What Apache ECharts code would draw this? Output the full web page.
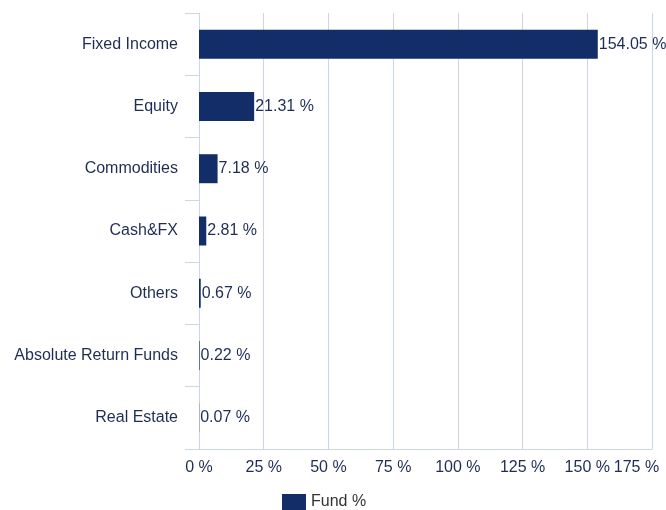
<!DOCTYPE html>
<html>
<head>
<meta charset="utf-8">
<script src="https://cdn.jsdelivr.net/npm/echarts@6/dist/echarts.min.js"></script>
<style>
  html, body { margin: 0; padding: 0; background: #fff; }
  #chart { width: 666px; height: 510px; }
</style>
</head>
<body>
<div id="chart"></div>
<script>
    var categories = ['Fixed Income', 'Equity', 'Commodities', 'Cash&FX', 'Others', 'Absolute Return Funds', 'Real Estate'];
    var fundValues = [154.05, 21.31, 7.18, 2.81, 0.67, 0.22, 0.07];
    var tickLabels = ['0 %', '25 %', '50 %', '75 %', '100 %', '125 %', '150 %', '175 %'];

    var textColor = '#1f2d55';
    var lineColor = '#ccd6eb';
    var font = 'Liberation Sans, Arial, sans-serif';

    var myChart = echarts.init(document.getElementById('chart'));

    myChart.setOption({
        backgroundColor: '#fff',
        animation: false,
        grid: { left: 199, right: 14, top: 13, bottom: 61 },
        legend: {
            top: 489,
            left: 277,
            itemWidth: 24,
            itemHeight: 16,
            itemGap: 8,
            icon: 'rect',
            textStyle: { color: '#333', fontSize: 16, fontFamily: font },
            data: ['Fund %']
        },
        xAxis: {
            type: 'value',
            min: 0,
            max: 175,
            interval: 25,
            axisLine: { show: true, lineStyle: { color: lineColor } },
            axisTick: { show: false },
            splitLine: { show: true, lineStyle: { color: lineColor } },
            axisLabel: {
                color: textColor,
                fontSize: 16,
                fontFamily: font,
                margin: 11,
                showMaxLabel: true,
                hideOverlap: false,
                formatter: function (v) {
                    var i = Math.round(v / 25);
                    // last label pulled inside the chart like the original
                    return i === tickLabels.length - 1 ? '{last|' + tickLabels[i] + '}' : tickLabels[i];
                },
                rich: {
                    last: { color: textColor, fontSize: 16, fontFamily: font, padding: [0, 31, 0, 0] }
                }
            }
        },
        yAxis: {
            type: 'category',
            inverse: true,
            data: categories,
            axisLine: { show: true, lineStyle: { color: lineColor } },
            axisTick: { show: true, length: 14, lineStyle: { color: lineColor } },
            axisLabel: { color: textColor, fontSize: 16, fontFamily: font, margin: 21, padding: [3, 0, 0, 0] }
        },
        series: [{
            name: 'Fund %',
            type: 'bar',
            data: fundValues,
            barWidth: 29,
            itemStyle: { color: '#132d69' },
            label: {
                show: true,
                position: 'right',
                distance: 1,
                color: textColor,
                fontSize: 16,
                fontFamily: font,
                formatter: function (p) { return p.value.toFixed(2) + ' %'; }
            }
        }]
    });
</script>
</body>
</html>
